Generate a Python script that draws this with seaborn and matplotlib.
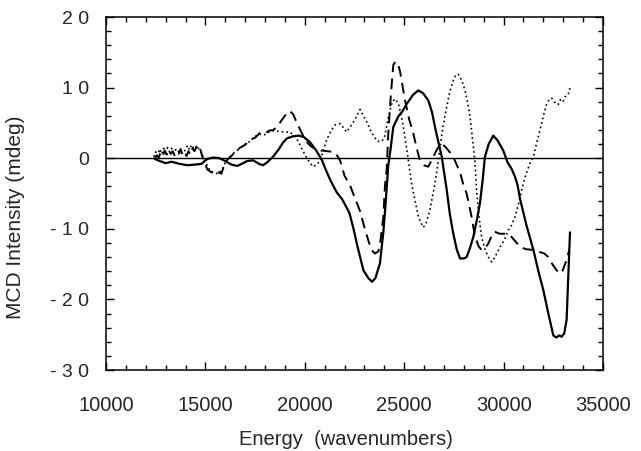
import matplotlib
matplotlib.use("Agg")
import matplotlib.pyplot as plt
import seaborn as sns
import numpy as np
import pandas as pd
from matplotlib.ticker import MultipleLocator

# ---- data ----
solid_x = [12450, 12700, 13000, 13300, 13700, 14100, 14500, 14800, 15100, 15400, 15700, 16000, 16300,
           16600, 16900, 17100, 17400, 17700, 17900, 18100, 18400, 18700, 18900, 19100, 19400, 19700,
           19950, 20250, 20550, 20850, 21050, 21300, 21600, 21900, 22250, 22450, 22650, 22950, 23200,
           23380, 23550, 23780, 23950, 24050, 24200, 24300, 24450, 24700, 24900, 25130, 25450, 25710,
           25950, 26210, 26400, 26550, 26890, 27140, 27300, 27470, 27650, 27810, 28000, 28140, 28300,
           28480, 28650, 28810, 28950, 29060, 29250, 29480, 29700, 29980, 30200, 30400, 30570, 30700,
           30830, 31150, 31500, 31750, 32000, 32250, 32500, 32650, 32800, 32920, 33050, 33170, 33250,
           33340]
solid_y = [-0.1, -0.4, -0.7, -0.5, -0.8, -1.0, -0.9, -0.8, -0.1, 0.1, 0.0, -0.4, -0.9,
           -1.1, -0.7, -0.4, -0.3, -0.8, -1.0, -0.6, 0.2, 1.3, 2.2, 2.8, 3.1, 3.2,
           3.0, 2.3, 1.2, -0.2, -1.6, -3.2, -4.8, -5.9, -7.8, -10.0, -12.5, -15.9, -17.0,
           -17.5, -17.0, -14.9, -10.5, -7.0, -1.0, 1.0, 4.4, 5.9, 6.6, 7.7, 9.0, 9.6,
           9.2, 8.2, 6.5, 4.4, 0.2, -4.5, -8.0, -10.7, -13.0, -14.2, -14.2, -14.0, -12.8,
           -11.1, -8.8, -6.4, -3.0, 0.2, 2.0, 3.2, 2.5, 1.1, -0.6, -1.5, -2.6, -3.8,
           -5.8, -9.5, -13.0, -16.0, -18.7, -22.0, -25.1, -25.4, -25.1, -25.3, -24.8, -22.9, -17.0,
           -10.5]

dashed_x = [12450, 12550, 12650, 12750, 12850, 12950, 13050, 13150, 13250, 13350, 13450, 13550, 13650,
            13750, 13850, 13950, 14050, 14150, 14250, 14350, 14450, 14550, 14650, 14750, 14850, 14950,
            15100, 15300, 15500, 15650, 15800, 15950, 16100, 16300, 16500, 16750, 17000, 17250, 17500,
            17750, 18000, 18200, 18420, 18650, 18840, 19050, 19250, 19420, 19600, 19840, 20050, 20260,
            20500, 20760, 21100, 21430, 21600, 21770, 22000, 22270, 22500, 22780, 23000, 23190, 23350,
            23530, 23700, 23780, 23950, 24030, 24120, 24200, 24330, 24450, 24560, 24680, 24790, 25040,
            25250, 25460, 25620, 25790, 26000, 26210, 26400, 26550, 26700, 26890, 27100, 27220, 27470,
            27650, 27810, 28000, 28140, 28390, 28560, 28750, 28890, 29050, 29230, 29400, 29560, 29700,
            29820, 30100, 30320, 30600, 30830, 31150, 31500, 31830, 32050, 32250, 32450, 32670, 32920,
            33050, 33170, 33300]
dashed_y = [0.0, 0.4, 0.1, 0.8, 0.3, 1.1, 0.5, 1.2, 0.6, 1.0, 0.4, 0.9, 0.6,
            1.3, 0.5, 0.9, 0.3, 1.0, 0.5, 1.4, 1.0, 1.6, 0.9, 1.2, 0.2, -0.6,
            -1.6, -2.0, -2.3, -2.0, -2.2, -1.0, -0.2, 0.3, 0.9, 1.5, 1.9, 2.6, 2.9,
            3.6, 3.5, 3.9, 4.0, 4.6, 5.4, 6.2, 6.7, 6.2, 5.0, 3.6, 2.5, 1.8,
            1.3, 1.1, 1.0, 0.9, 0.5, -0.3, -2.5, -3.8, -5.5, -7.5, -9.8, -11.6, -13.0,
            -13.5, -13.2, -12.3, -8.3, -4.0, -1.5, 3.5, 9.0, 13.2, 13.7, 13.4, 12.3, 8.2,
            5.5, 3.5, 1.5, -0.3, -1.0, -1.2, -0.2, 0.7, 1.5, 2.1, 1.5, 1.1, 0.2,
            -1.0, -2.0, -4.0, -5.0, -8.3, -11.1, -12.5, -13.0, -12.8, -12.1, -11.0, -10.4, -10.6,
            -10.7, -10.7, -10.9, -11.8, -12.6, -12.9, -13.0, -13.3, -13.5, -14.0, -15.0, -15.9, -16.3,
            -15.3, -14.4, -13.0]

dotted_x = [12400, 12500, 12600, 12700, 12800, 12900, 13000, 13100, 13200, 13300, 13400, 13500, 13600,
            13700, 13800, 13900, 14000, 14100, 14200, 14300, 14400, 14500, 14600, 14700, 14800, 14900,
            15050, 15250, 15450, 15650, 15850, 16000, 16200, 16450, 16700, 16950, 17200, 17450, 17700,
            17950, 18200, 18450, 18750, 19000, 19250, 19420, 19590, 19840, 20050, 20260, 20430, 20600,
            20760, 20900, 21100, 21300, 21520, 21770, 21950, 22100, 22300, 22530, 22780, 22950, 23110,
            23300, 23450, 23620, 23780, 23900, 24030, 24200, 24400, 24540, 24710, 24850, 24960, 25100,
            25210, 25380, 25460, 25710, 25960, 26100, 26290, 26450, 26550, 26720, 26800, 26950, 27140,
            27300, 27470, 27600, 27720, 27900, 28060, 28200, 28310, 28480, 28560, 28640, 28750, 28890,
            29050, 29230, 29400, 29600, 29820, 30050, 30240, 30400, 30570, 30750, 30910, 31100, 31330,
            31500, 31650, 31830, 32000, 32170, 32300, 32420, 32600, 32750, 32880, 33000, 33100, 33250,
            33370]
dotted_y = [0.2, 0.9, 0.3, 1.3, 0.6, 1.4, 0.8, 1.5, 0.9, 1.4, 0.7, 1.2, 0.8,
            1.1, 0.7, 0.9, 1.2, 1.8, 1.2, 1.9, 1.4, 1.5, 1.8, 1.0, 0.8, 0.0,
            -0.8, -1.8, -2.1, -2.2, -1.6, -0.6, 0.1, 0.8, 1.3, 1.9, 2.3, 3.0, 3.4,
            3.3, 3.7, 3.9, 3.8, 3.7, 3.7, 3.3, 2.8, 1.4, 0.3, -0.7, -1.2, -0.9,
            -0.4, 0.8, 2.6, 3.8, 4.7, 4.9, 4.3, 3.7, 4.5, 5.5, 6.9, 6.0, 5.2,
            4.0, 3.2, 2.5, 2.3, 2.5, 3.2, 5.8, 8.0, 8.4, 7.7, 6.0, 4.4, 1.8,
            -0.3, -3.8, -4.8, -8.3, -9.8, -9.2, -7.4, -5.0, -3.6, -0.3, 1.5, 4.5, 7.3,
            9.5, 11.0, 11.8, 11.9, 11.0, 9.6, 7.8, 5.9, 1.5, -0.5, -4.5, -8.0, -11.1,
            -12.8, -14.0, -14.7, -13.8, -12.6, -11.5, -10.2, -9.5, -8.3, -6.5, -4.5, -2.5, -0.7,
            0.2, 2.0, 4.0, 6.0, 7.7, 8.3, 8.5, 7.8, 7.6, 8.4, 8.1, 8.7, 9.0,
            10.3]

x_ticks = [10000, 15000, 20000, 25000, 30000, 35000]
x_ticklabels = ["10000", "15000", "20000", "25000", "30000", "35000"]
y_ticks = [-30, -20, -10, 0, 10, 20]
y_ticklabels = ["- 3 0", "- 2 0", "- 1 0", "0", "1 0", "2 0"]

sns.set_style("ticks")
plt.rcParams["font.family"] = ["Liberation Sans", "DejaVu Sans"]

fig = plt.figure(figsize=(6.41, 4.51), dpi=100)
ax = fig.add_axes([106 / 641, 1 - 370 / 451, 497 / 641, 353 / 451])

ax.axhline(0, color="black", lw=1.0, zorder=1)

sns.lineplot(x=solid_x, y=solid_y, ax=ax, color="black", lw=1.6, sort=False, estimator=None)
sns.lineplot(x=dashed_x, y=dashed_y, ax=ax, color="black", lw=1.4, sort=False, estimator=None)
sns.lineplot(x=dotted_x, y=dotted_y, ax=ax, color="black", lw=1.2, sort=False, estimator=None)
lines = ax.get_lines()
lines[-2].set_dashes((5.5, 3.3))
lines[-1].set_dashes((1.0, 1.8))

ax.set_xlim(10000, 35000)
ax.set_ylim(-30, 20)
ax.set_xticks(x_ticks)
ax.set_xticklabels(x_ticklabels)
ax.set_yticks(y_ticks)
ax.set_yticklabels(y_ticklabels)
ax.xaxis.set_minor_locator(MultipleLocator(1000))
ax.yaxis.set_minor_locator(MultipleLocator(2))

for sp in ax.spines.values():
    sp.set_visible(True)
    sp.set_linewidth(1.1)
    sp.set_color("black")

ax.tick_params(which="both", direction="in", top=True, right=True, color="black", width=1.0)
ax.tick_params(which="major", length=6)
ax.tick_params(which="minor", length=3.5)
ax.tick_params(axis="x", which="major", pad=19, labelsize=14.5)
ax.tick_params(axis="y", which="major", pad=12, labelsize=14)

ax.set_xlabel("Energy  (wavenumbers)", fontsize=14.5)
ax.set_ylabel("MCD Intensity (mdeg)", fontsize=15)
ax.xaxis.set_label_coords(0.483, -0.17)
ax.yaxis.set_label_coords(-0.163, 0.433)

fig.savefig("out.png", dpi=100)
